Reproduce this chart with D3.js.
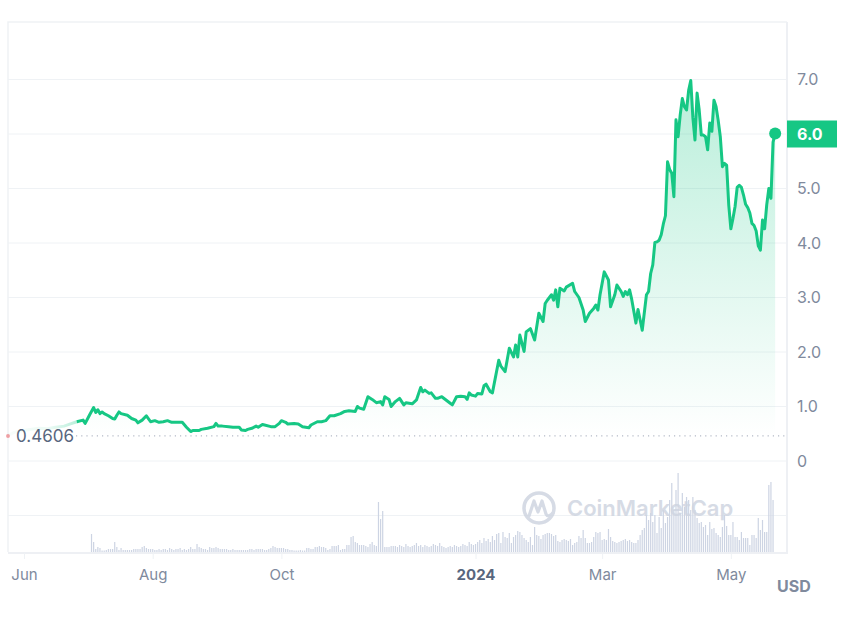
<!DOCTYPE html>
<html><head><meta charset="utf-8">
<script src="https://cdn.jsdelivr.net/npm/d3@7"></script>
<style>body{margin:0;background:#fff;} svg{display:block;font-family:Inter,"Noto Sans",sans-serif;}</style>
</head><body><svg id="c" width="850" height="630"></svg>
<script>
// ---- data ----
const earlyDates = ["2023-05-24","2023-05-27","2023-05-31","2023-06-04","2023-06-08","2023-06-12","2023-06-16","2023-06-20","2023-06-23","2023-06-26"];
const earlyPrices = [0.4606,0.52,0.56,0.58,0.60,0.59,0.62,0.64,0.68,0.72];

const priceDates = [
"2023-06-26","2023-06-29","2023-06-30","2023-07-02","2023-07-04","2023-07-05","2023-07-06","2023-07-07","2023-07-08","2023-07-09",
"2023-07-11","2023-07-13","2023-07-14","2023-07-15","2023-07-16","2023-07-17","2023-07-20","2023-07-22","2023-07-24","2023-07-25",
"2023-07-27","2023-07-29","2023-07-31","2023-08-02","2023-08-04","2023-08-06","2023-08-08","2023-08-10","2023-08-13","2023-08-15",
"2023-08-17","2023-08-19","2023-08-20","2023-08-23","2023-08-24","2023-08-27","2023-08-30","2023-08-31","2023-09-01","2023-09-03",
"2023-09-06","2023-09-08","2023-09-11","2023-09-12","2023-09-14","2023-09-15","2023-09-17","2023-09-19","2023-09-20","2023-09-22",
"2023-09-23","2023-09-26","2023-09-28","2023-09-30","2023-10-01","2023-10-03","2023-10-04","2023-10-07","2023-10-09","2023-10-11",
"2023-10-14","2023-10-15","2023-10-18","2023-10-20","2023-10-22","2023-10-24","2023-10-26","2023-10-29","2023-10-31","2023-11-02",
"2023-11-05","2023-11-06","2023-11-07","2023-11-09","2023-11-11","2023-11-13","2023-11-15","2023-11-17","2023-11-18","2023-11-19",
"2023-11-21","2023-11-22","2023-11-24","2023-11-26","2023-11-28","2023-11-29","2023-12-02","2023-12-04","2023-12-06","2023-12-07",
"2023-12-08","2023-12-10","2023-12-11","2023-12-13","2023-12-14","2023-12-16","2023-12-18","2023-12-20","2023-12-21","2023-12-23",
"2023-12-25","2023-12-27","2023-12-28","2023-12-29","2023-12-30","2024-01-01","2024-01-02","2024-01-04","2024-01-05","2024-01-06",
"2024-01-08","2024-01-09","2024-01-12","2024-01-13","2024-01-15","2024-01-17","2024-01-19","2024-01-20","2024-01-21","2024-01-22",
"2024-01-24","2024-01-25","2024-01-27","2024-01-29","2024-01-31","2024-02-02","2024-02-03","2024-02-04","2024-02-06","2024-02-07",
"2024-02-08","2024-02-09","2024-02-10","2024-02-12","2024-02-13","2024-02-16","2024-02-17","2024-02-19","2024-02-21","2024-02-22",
"2024-02-24","2024-02-26","2024-02-27","2024-02-28","2024-02-29","2024-03-02","2024-03-04","2024-03-05","2024-03-07","2024-03-08",
"2024-03-10","2024-03-11","2024-03-12","2024-03-13","2024-03-14","2024-03-15","2024-03-17","2024-03-18","2024-03-20","2024-03-22",
"2024-03-23","2024-03-24","2024-03-25","2024-03-26","2024-03-27","2024-03-28","2024-03-29","2024-03-30","2024-03-31","2024-04-01",
"2024-04-02","2024-04-03","2024-04-04","2024-04-05","2024-04-06","2024-04-07","2024-04-08","2024-04-09","2024-04-10","2024-04-11",
"2024-04-12","2024-04-13","2024-04-14","2024-04-15","2024-04-16","2024-04-17","2024-04-18","2024-04-19","2024-04-20","2024-04-21",
"2024-04-22","2024-04-23","2024-04-24","2024-04-25","2024-04-26","2024-04-27","2024-04-28","2024-04-29","2024-04-30","2024-05-01",
"2024-05-02","2024-05-03","2024-05-04","2024-05-05","2024-05-06","2024-05-07","2024-05-08","2024-05-09","2024-05-10","2024-05-11",
"2024-05-12","2024-05-13","2024-05-14","2024-05-15","2024-05-16","2024-05-17","2024-05-18","2024-05-19","2024-05-20","2024-05-21",
"2024-05-22"];
const prices = [
0.72,0.75,0.69,0.84,0.98,0.89,0.94,0.87,0.90,0.87,
0.83,0.78,0.77,0.84,0.90,0.87,0.84,0.78,0.75,0.70,
0.75,0.83,0.72,0.74,0.71,0.72,0.74,0.71,0.71,0.71,
0.62,0.54,0.56,0.56,0.58,0.60,0.63,0.69,0.64,0.64,
0.63,0.62,0.62,0.57,0.56,0.58,0.60,0.64,0.62,0.67,
0.66,0.63,0.63,0.69,0.74,0.71,0.68,0.69,0.68,0.63,
0.61,0.66,0.72,0.72,0.74,0.83,0.83,0.87,0.91,0.92,
0.91,1.00,0.97,0.95,1.18,1.13,1.07,1.09,1.03,1.18,
1.13,1.00,1.09,1.15,1.03,1.07,1.05,1.12,1.35,1.27,
1.30,1.24,1.25,1.15,1.15,1.18,1.12,1.06,1.03,1.18,
1.19,1.18,1.13,1.25,1.21,1.19,1.24,1.23,1.38,1.41,
1.27,1.25,1.85,1.74,1.64,2.07,1.91,2.13,1.91,2.31,
2.01,2.37,2.43,2.22,2.71,2.56,2.89,2.95,3.05,2.95,
3.14,2.83,3.17,3.12,3.19,3.26,3.11,3.00,2.77,2.56,
2.71,2.80,2.86,2.77,3.05,3.47,3.32,2.83,3.05,3.23,
3.11,3.02,3.11,3.05,3.14,2.97,2.53,2.78,2.40,3.05,
3.11,3.44,3.60,4.01,4.02,4.05,4.15,4.35,4.50,5.49,
5.35,5.28,4.85,6.26,5.95,6.35,6.65,6.50,6.44,6.80,
6.98,6.30,5.89,6.75,6.44,5.98,5.98,5.95,5.71,6.20,
6.05,6.62,6.50,6.25,5.95,5.40,5.46,5.43,4.70,4.26,
4.45,4.67,5.02,5.06,5.02,4.88,4.71,4.65,4.55,4.36,
4.32,4.22,3.95,3.87,4.42,4.26,4.70,5.00,4.82,5.85,
6.01];

const volStart = "2023-07-03";
const volumes = [
18,10,3,5,4,1.5,1.5,2,3,3,3,
10,5,2,4,2,2,2,2,2,3,3,3,3,5,6,4,3,3,3,2,2,
3,2,3,3,2,4,3,2,3,3,4,2,3,2,3,5,3,3,
8,5,4,3,3,2,5,4,4,5,4,3,3,3,3,
2,2,3,2,2,2,2,
2,2,2,3,3,2,3,3,
3,3,2,2,3,
4,6,5,4,4,4,4,3,3,
2,2,1.5,1.5,1.5,2,1.5,1.5,
4,4,3,3,
5,5,6,5,5,
4,2,3,
6,6,6,7,
2,3,3,
7,7,
15,16,10,9,7,7,7,
6,5,8,10,7,6,
50,33,41,
5,5,5,6,6,
6,5,7,6,5,8,6,5,6,7,9,6,7,5,
7,6,5,6,8,7,6,9,6,5,4,5,6,5,7,6,5,6,8,7,6,10,8,7,
8,10,12,9,14,11,13,10,16,12,18,
19,9,20,15,14,19,9,15,17,21,
20,17,14,12,10,15,7,25,17,
16,13,17,18,19,19,18,16,17,11,
10,12,13,12,11,13,7,9,10,
16,14,22,14,9,9,10,15,20,19,
20,12,13,12,23,15,11,10,9,
10,11,12,13,11,12,10,9,9,12,
17,22,24,37,32,39,30,37,19,35,
24,42,29,35,52,69,42,62,79,39,
59,45,55,52,42,55,42,34,29,
30,25,27,17,30,23,24,19,17,
15,25,37,26,17,17,30,15,15,12,
20,14,14,14,7,17,17,14,34,
22,32,20,20,67,70,52];

const yTicks = [0,1,2,3,4,5,6,7];
const gridTicks = [-1,0,1,2,3,4,5,6,7];
const xTickDates = ["2023-06-01","2023-08-01","2023-10-01","2024-01-01","2024-03-01","2024-05-01"];
const xTickLabels = ["Jun","Aug","Oct","2024","Mar","May"];
const openPrice = 0.4606;
const lastPrice = 6.0;
const currency = "USD";

// ---- chart ----
const parse = d3.utcParse("%Y-%m-%d");
const svg = d3.select("#c");
const L = 8, R = 787, T = 22, B = 552;
const GREEN = "#16c784";

const x = d3.scaleUtc().domain([parse("2023-06-01"), parse("2024-05-01")]).range([24, 730.85]);
const y = d3.scaleLinear().domain([0, 7]).range([461, 79.5]);
const yv = d3.scaleLinear().domain([0, 82]).range([B, 470]);

const defs = svg.append("defs");
const ag = defs.append("linearGradient").attr("id","areaG").attr("gradientUnits","userSpaceOnUse")
  .attr("x1",0).attr("y1",y(7)).attr("x2",0).attr("y2",y(openPrice));
ag.append("stop").attr("offset",0).attr("stop-color",GREEN).attr("stop-opacity",0.3);
ag.append("stop").attr("offset",1).attr("stop-color",GREEN).attr("stop-opacity",0.0);
const fg = defs.append("linearGradient").attr("id","fadeG").attr("gradientUnits","userSpaceOnUse")
  .attr("x1",L).attr("y1",0).attr("x2",x(parse("2023-06-26"))).attr("y2",0);
fg.append("stop").attr("offset",0).attr("stop-color",GREEN).attr("stop-opacity",0.03);
fg.append("stop").attr("offset",0.6).attr("stop-color",GREEN).attr("stop-opacity",0.08);
fg.append("stop").attr("offset",1).attr("stop-color",GREEN).attr("stop-opacity",0.3);

// grid
svg.append("g").selectAll("line").data(gridTicks).join("line")
  .attr("x1",L).attr("x2",R).attr("y1",d=>y(d)).attr("y2",d=>y(d))
  .attr("stroke","#eff2f5").attr("stroke-width",1);
// frame
svg.append("path").attr("d",`M${L},${B} V${T} H${R}`).attr("fill","none").attr("stroke","#eff2f5").attr("stroke-width",1.5);
svg.append("path").attr("d",`M${R},${T} V${B+1} H${L}`).attr("fill","none").attr("stroke","#eef0f4").attr("stroke-width",2);

// volume bars
const v0 = parse(volStart);
const volData = volumes.map((v,i)=>({date:d3.utcDay.offset(v0,i), v}));
svg.append("g").selectAll("rect").data(volData).join("rect")
  .attr("x",d=>x(d.date)-0.6).attr("width",1.2)
  .attr("y",d=>yv(d.v)).attr("height",d=>B-yv(d.v))
  .attr("fill","#cdd4e3");

// watermark
const wm = svg.append("g").attr("opacity",0.85);
wm.append("circle").attr("cx",539).attr("cy",508).attr("r",15).attr("fill","none").attr("stroke","#cfd5e1").attr("stroke-width",3.5);
wm.append("path").attr("d","M529,516 L534,501 L538,512 L542,501 L546,514 Q548,518 553,513")
  .attr("fill","none").attr("stroke","#cfd5e1").attr("stroke-width",3.2).attr("stroke-linejoin","round").attr("stroke-linecap","round");
wm.append("text").attr("x",567).attr("y",516).attr("font-size",22).attr("font-weight",600)
  .attr("fill","#cfd5e1").text("CoinMarketCap");

// price area + line
const data = priceDates.map((d,i)=>({date:parse(d), v:prices[i]}));
const early = earlyDates.map((d,i)=>({date:parse(d), v:earlyPrices[i]}));
svg.append("path").datum(data)
  .attr("d", d3.area().x(d=>x(d.date)).y0(y(openPrice)).y1(d=>y(d.v)))
  .attr("fill","url(#areaG)");
svg.append("path").datum(early)
  .attr("d", d3.line().x(d=>x(d.date)).y(d=>y(d.v)))
  .attr("fill","none").attr("stroke","url(#fadeG)").attr("stroke-width",3);
svg.append("path").datum(data)
  .attr("d", d3.line().x(d=>x(d.date)).y(d=>y(d.v)))
  .attr("fill","none").attr("stroke",GREEN).attr("stroke-width",3).attr("stroke-linejoin","round");

// open price dotted line
svg.append("line").attr("x1",76).attr("x2",R).attr("y1",y(openPrice)).attr("y2",y(openPrice))
  .attr("stroke","#a0a8b8").attr("stroke-width",1).attr("stroke-dasharray","1.2,4");
svg.append("circle").attr("cx",L).attr("cy",y(openPrice)).attr("r",2).attr("fill","#ea3943").attr("opacity",0.45);
svg.append("text").attr("x",16).attr("y",y(openPrice)).attr("dy","0.36em")
  .attr("font-size",17).attr("fill","#58667e").text(openPrice.toFixed(4));

// last point
const last = data[data.length-1];
svg.append("circle").attr("cx",x(last.date)).attr("cy",y(last.v)).attr("r",6).attr("fill",GREEN);

// right axis (the tick at the last price is covered by the price badge)
const ya = svg.append("g").attr("transform",`translate(${R},0)`)
  .call(d3.axisRight(y).tickValues(yTicks.filter(t=>t!==lastPrice)).tickSize(0).tickPadding(10)
    .tickFormat(d=>d===0?"0":d3.format(".1f")(d)));
ya.select(".domain").remove();
ya.selectAll("text").attr("font-size",16).attr("fill","#808a9d").attr("font-family","Inter, sans-serif");

// last price badge
svg.append("rect").attr("x",R).attr("y",y(lastPrice)-13.5).attr("width",50).attr("height",27).attr("fill",GREEN);
svg.append("text").attr("x",R+10).attr("y",y(lastPrice)).attr("dy","0.36em")
  .attr("font-size",16).attr("font-weight",700).attr("fill","#fff").text(lastPrice.toFixed(1));

// bottom axis
const xa = svg.append("g").attr("transform",`translate(0,${B+1})`)
  .call(d3.axisBottom(x).tickValues(xTickDates.map(parse)).tickSize(6).tickPadding(10)
    .tickFormat((d,i)=>xTickLabels[i]));
xa.select(".domain").remove();
xa.selectAll("line").attr("stroke","#eff2f5");
xa.selectAll("text").attr("font-size",15).attr("font-family","Inter, sans-serif")
  .attr("font-weight",(d,i)=>xTickLabels[i]==="2024"?700:400)
  .attr("fill",(d,i)=>xTickLabels[i]==="2024"?"#58667e":"#808a9d");

svg.append("text").attr("x",777).attr("y",586).attr("dy","0.36em").attr("font-size",16).attr("font-weight",700)
  .attr("fill","#808a9d").text(currency);
</script></body></html>
